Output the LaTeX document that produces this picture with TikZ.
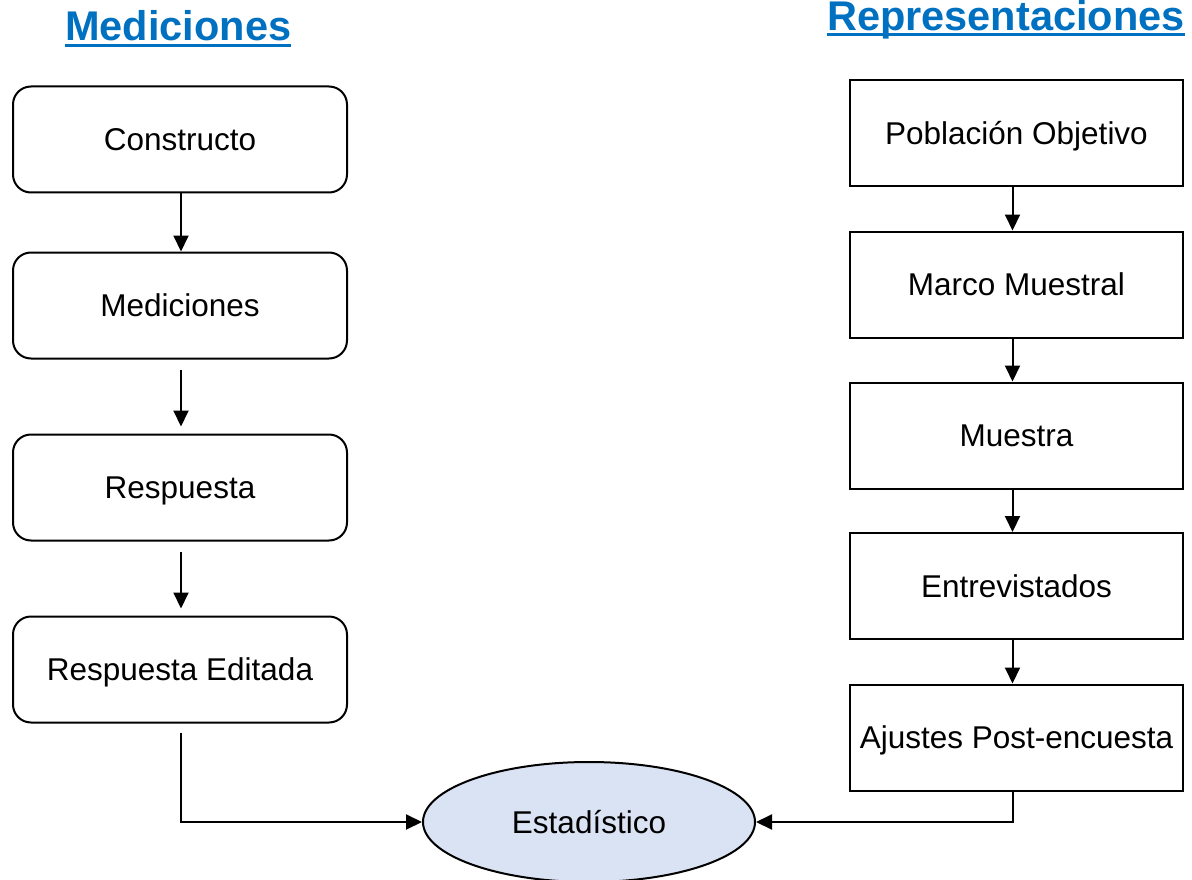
\documentclass[tikz,border=0pt]{standalone}
\usepackage{fontspec}
\setmainfont{Liberation Sans}
\usetikzlibrary{arrows.meta,shapes.geometric}
\definecolor{titleblue}{HTML}{0070C0}
\definecolor{ellfill}{HTML}{DAE3F3}
\tikzset{
  bodyfont/.style={font=\fontsize{31.5}{38}\selectfont, text height=22.5pt, text depth=0pt},
  lbox/.style={draw, line width=2pt, rounded corners=18pt, minimum width=334pt, minimum height=106pt, inner sep=0pt, bodyfont},
  rbox/.style={draw, line width=2pt, minimum width=333pt, minimum height=106pt, inner sep=0pt, bodyfont},
  ell/.style={draw, line width=2pt, ellipse, fill=ellfill, minimum width=332pt, minimum height=120pt, inner sep=0pt, bodyfont},
  ttl/.style={text=titleblue, font=\fontsize{41.5}{48}\selectfont\bfseries, inner sep=0pt},
  uline/.style={draw=titleblue, line width=3pt},
  arr/.style={line width=2pt, -{Triangle[length=16pt,width=15pt]}}
}
\begin{document}
\begin{tikzpicture}[x=1pt,y=-1pt]
\useasboundingbox (0,0) rectangle (1192,880);
% titles
\node[ttl, anchor=base west] (t1) at (65,41) {Mediciones};
\draw[uline] ([yshift=-4.5pt]t1.base west) -- ([yshift=-4.5pt]t1.base east);
\node[ttl, anchor=base west] (t2) at (827,30.5) {Representaciones};
\draw[uline] ([yshift=-4.5pt]t2.base west) -- ([yshift=-4.5pt]t2.base east);
% left column
\node[lbox] (l1) at (180,139.5) {Constructo};
\node[lbox] (l2) at (180,305.5) {Mediciones};
\node[lbox] (l3) at (180,487.5) {Respuesta};
\node[lbox] (l4) at (180,669.5) {Respuesta Editada};
% right column
\node[rbox] (r1) at (1016.5,133) {Población Objetivo};
\node[rbox] (r2) at (1016.5,284.5) {Marco Muestral};
\node[rbox] (r3) at (1016.5,435.5) {Muestra};
\node[rbox] (r4) at (1016.5,586) {Entrevistados};
\node[rbox] (r5) at (1016.5,737.5) {Ajustes Post-encuesta};
% ellipse
\node[ell] (est) at (589,822) {Estadístico};
% left arrows
\draw[arr] ([xshift=1pt]l1.south) -- ([xshift=1pt]l2.north);
\draw[arr, shorten <=10pt, shorten >=7pt] ([xshift=1pt]l2.south) -- ([xshift=1pt]l3.north);
\draw[arr, shorten <=10pt, shorten >=7pt] ([xshift=1pt]l3.south) -- ([xshift=1pt]l4.north);
\draw[arr, shorten <=9pt] ([xshift=1pt]l4.south) |- (est.west);
% right arrows
\draw[arr] ([xshift=-4pt]r1.south) -- ([xshift=-4pt]r2.north);
\draw[arr] ([xshift=-4pt]r2.south) -- ([xshift=-4pt]r3.north);
\draw[arr] ([xshift=-4pt]r3.south) -- ([xshift=-4pt]r4.north);
\draw[arr] ([xshift=-4pt]r4.south) -- ([xshift=-4pt]r5.north);
\draw[arr] ([xshift=-4pt]r5.south) |- (est.east);
\end{tikzpicture}
\end{document}
